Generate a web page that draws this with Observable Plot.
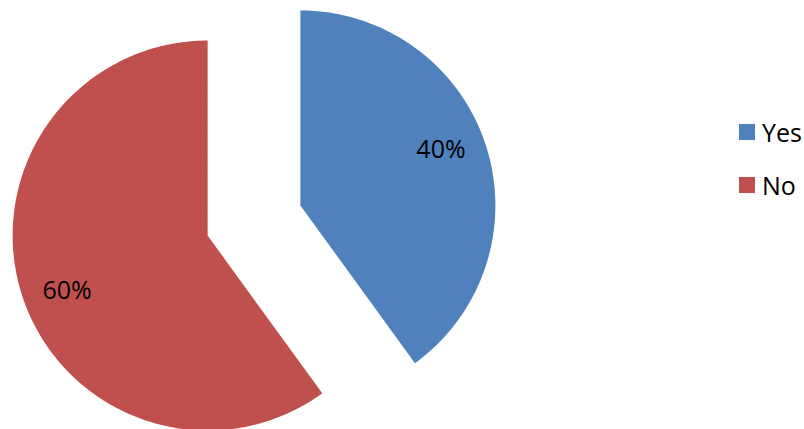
<!DOCTYPE html>
<html><head><meta charset="utf-8">
<script src="https://cdn.jsdelivr.net/npm/d3@7"></script>
<script src="https://cdn.jsdelivr.net/npm/@observablehq/plot@0.6"></script>
<style>
body{margin:0;background:#fff;}
#wrap{position:relative;width:804px;height:429px;overflow:hidden;font-family:"Open Sans",sans-serif;background:#fff;}
#wrap svg{position:absolute;left:0;top:0;}
#legend{position:absolute;left:739px;top:124px;}
.item{display:flex;align-items:center;height:16px;margin-bottom:37px;}
.sw{width:16px;height:16px;margin-right:7px;flex:none;}
.lbl{font-size:25px;line-height:16px;color:#000;white-space:nowrap;}
</style></head><body><div id="wrap"><div id="legend"></div></div>
<script>
const categories = ["Yes", "No"];
const values = [40, 60];
const labels = ["40%", "60%"];
const colors = ["#4F81BD", "#C0504D"];

// layout
const W = 804, H = 429, CX = 253.5, CY = 220, R = 195, EXPLODE = 0.25;
const LABEL_R = 0.775, LABEL_SHIFT = -3.5 * Math.PI / 180, STEPS = 360;

const arcs = d3.pie().sort(null).value(d => d)(values);
const polys = [];
const labelPts = [];
arcs.forEach((a, i) => {
  const mid = (a.startAngle + a.endAngle) / 2;
  const ox = EXPLODE * Math.sin(mid), oy = EXPLODE * Math.cos(mid);
  polys.push({cat: categories[i], x: ox, y: oy});
  const n = Math.max(2, Math.ceil((a.endAngle - a.startAngle) / (2 * Math.PI) * STEPS));
  for (let k = 0; k <= n; k++) {
    const t = a.startAngle + (a.endAngle - a.startAngle) * k / n;
    polys.push({cat: categories[i], x: ox + Math.sin(t), y: oy + Math.cos(t)});
  }
  polys.push({cat: categories[i], x: ox, y: oy});
  const la = mid + LABEL_SHIFT;
  labelPts.push({cat: categories[i], label: labels[i], x: ox + LABEL_R * Math.sin(la), y: oy + LABEL_R * Math.cos(la)});
});

const chart = Plot.plot({
  width: W, height: H, margin: 0,
  x: {domain: [-CX / R, (W - CX) / R], axis: null},
  y: {domain: [-(H - CY) / R, CY / R], axis: null},
  color: {domain: categories, range: colors},
  style: {fontFamily: '"Open Sans", sans-serif', background: "transparent"},
  marks: [
    Plot.line(polys, {x: "x", y: "y", z: "cat", fill: "cat", stroke: "none"}),
    Plot.text(labelPts, {x: "x", y: "y", text: "label", fontSize: 25, fill: "#000"})
  ]
});
const wrap = document.getElementById("wrap");
wrap.insertBefore(chart, wrap.firstChild);

const legend = d3.select("#legend");
const items = legend.selectAll(".item").data(categories).join("div").attr("class", "item");
items.append("div").attr("class", "sw").style("background", (d, i) => colors[i]);
items.append("div").attr("class", "lbl").text(d => d);
</script>
</body></html>
